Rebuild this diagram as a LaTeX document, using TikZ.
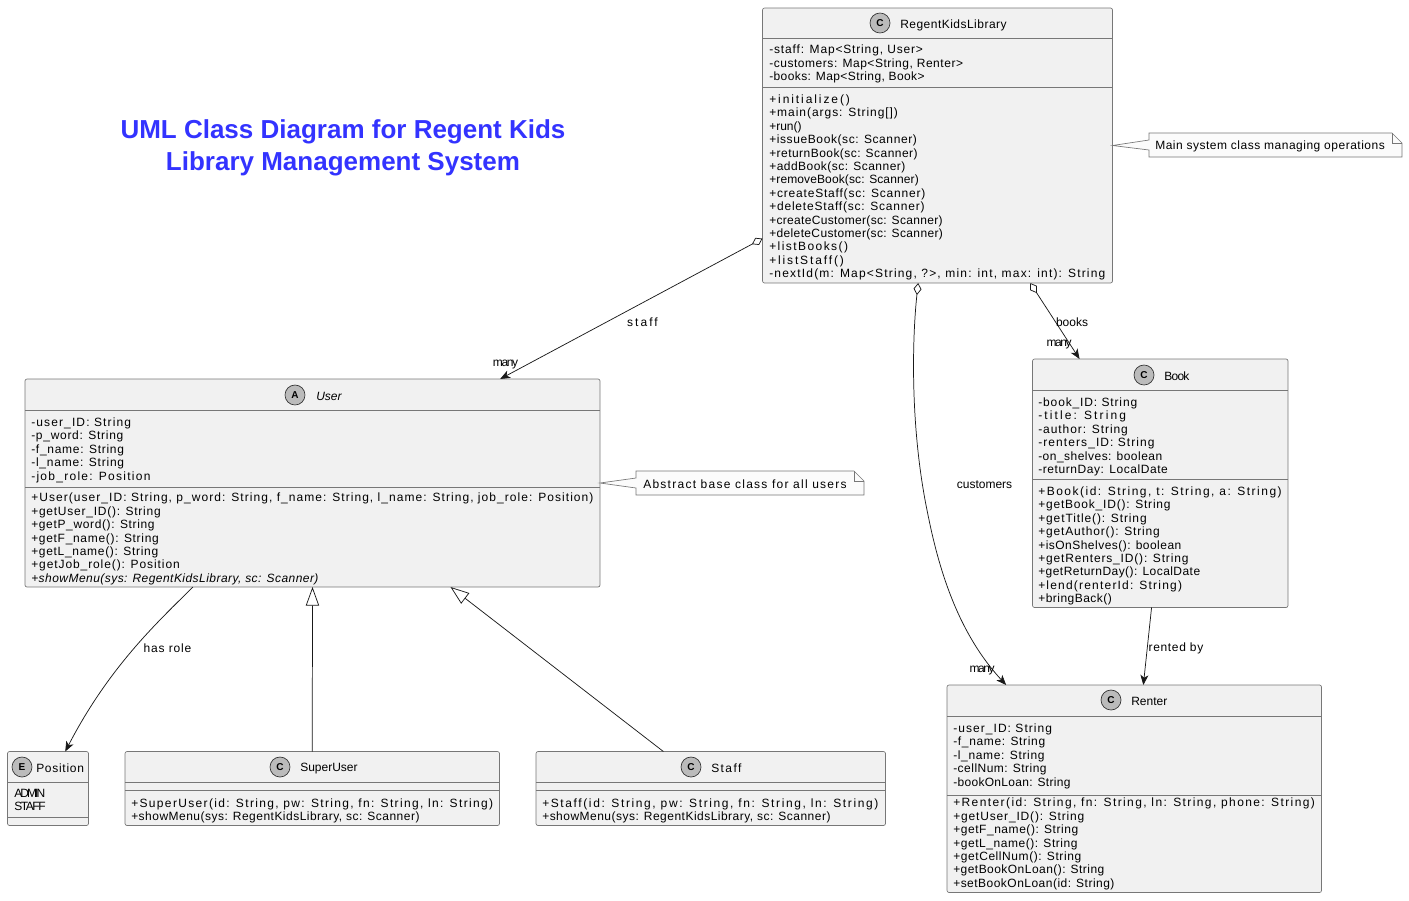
\documentclass[tikz,border=0pt]{standalone}
\usepackage{fontspec}
\setmainfont{Liberation Sans}
\usetikzlibrary{arrows.meta,fit}

\definecolor{classfill}{HTML}{F1F1F1}
\definecolor{classedge}{HTML}{777777}
\definecolor{notefill}{HTML}{FBFBFB}
\definecolor{spotfill}{HTML}{BBBBBB}
\definecolor{titleblue}{HTML}{3333FF}

\newcommand{\lsp}[2]{{\addfontfeature{LetterSpace=#1}#2}}

\tikzset{
	classbox/.style = {draw = classedge, fill = classfill, rounded corners = 1.5pt, inner sep = 0pt, outer sep = 0pt, line width = 0.5pt},
	sepline/.style = {draw = classedge, line width = 0.5pt},
	spot/.style = {circle, draw = black!80, fill = spotfill, minimum size = 15pt, inner sep = 0pt, line width = 0.5pt, font = \fontsize{7.5}{7.5}\selectfont\bfseries},
	classname/.style = {anchor = west, inner sep = 0pt, font = \fontsize{9}{10.05}\selectfont},
	members/.style = {anchor = north west, inner sep = 0pt, align = left, font = \fontsize{9}{10.05}\selectfont},
	edgelabel/.style = {inner sep = 0pt, font = \fontsize{9}{10.05}\selectfont},
	tightlabel/.style = {inner sep = 0pt, font = \fontsize{9}{10.05}\selectfont\addfontfeature{LetterSpace=-12}},
	notebox/.style = {inner sep = 0pt, outer sep = 0pt, minimum height = 18pt},
	noteline/.style = {draw = classedge, fill = notefill, line width = 0.5pt},
	assoc/.style = {draw = black!90, line width = 0.55pt, -{Stealth[length = 7.5pt, width = 6pt, inset = 2pt]}},
	aggr/.style = {assoc, {Diamond[open, fill = white, length = 9pt, width = 6pt]}-{Stealth[length = 7.5pt, width = 6pt, inset = 2pt]}},
	inherit/.style = {draw = black!90, line width = 0.55pt, -{Triangle[open, fill = white, length = 14pt, width = 10pt]}}
}

\begin{document}
\begin{tikzpicture}[x = 0.75pt, y = -0.75pt]
	\useasboundingbox (0,0) rectangle (1409,900);

	\node[align = center, font = \fontsize{19.5}{24}\selectfont\bfseries, text = titleblue] (diagramtitle) at (343,148) {UML Class Diagram for Regent Kids\\Library Management System};

	% class frames
	\node[classbox, fit = {(762.5,8) (1112.5,283)}] (rkl) {};
	\node[classbox, fit = {(25,379) (600,587)}] (user) {};
	\node[classbox, fit = {(7.5,751.5) (88.5,825.5)}] (position) {};
	\node[classbox, fit = {(125,751.5) (499.5,825.5)}] (superuser) {};
	\node[classbox, fit = {(536,751.5) (885.5,825.5)}] (staff) {};
	\node[classbox, fit = {(1032.5,359) (1288,607.5)}] (book) {};
	\node[classbox, fit = {(947,685) (1321.5,892.5)}] (renter) {};

	\foreach \nd/\yy in {rkl/38.5, rkl/87, user/410.5, user/487, position/782.5, position/817.5, superuser/782.5, superuser/790.5, staff/782.5, staff/790.5, book/390.5, book/479, renter/716, renter/795}
		\draw[sepline] (\nd.west |- 0,\yy) -- (\nd.east |- 0,\yy);

	% headers
	\node[spot] (rklspot) at (880,23) {C};
	\node[classname] (rklname) at (900,25) {\lsp{4}{RegentKidsLibrary}};
	\node[spot] (userspot) at (295,395) {A};
	\node[classname, font = \fontsize{9}{10.05}\selectfont\itshape] (username) at (316,396) {User};
	\node[spot] (positionspot) at (22,767) {E};
	\node[classname] (positionname) at (36,768) {\lsp{6}{Position}};
	\node[spot] (superuserspot) at (280,767) {C};
	\node[classname] (superusername) at (300,769) {SuperUser};
	\node[spot] (staffspot) at (691,767) {C};
	\node[classname] (staffname) at (711,768) {\lsp{12}{Staff}};
	\node[spot] (bookspot) at (1144,375) {C};
	\node[classname] (bookname) at (1164,376) {\lsp{-6}{Book}};
	\node[spot] (renterspot) at (1111,700) {C};
	\node[classname] (rentername) at (1131,701) {Renter};

	% members
	\node[members] (rklattrs) at (769,45) {\lsp{7}{-staff: Map<String, User>}\\\lsp{4.5}{-customers: Map<String, Renter>}\\\lsp{3.3}{-books: Map<String, Book>}};
	\node[members] (rklmethods) at (769,94.5) {\lsp{16}{+initialize()}\\\lsp{8}{+main(args: String[])}\\+run()\\\lsp{5}{+issueBook(sc: Scanner)}\\\lsp{3.8}{+returnBook(sc: Scanner)}\\\lsp{4}{+addBook(sc: Scanner)}\\\lsp{1}{+removeBook(sc: Scanner)}\\\lsp{6.7}{+createStaff(sc: Scanner)}\\\lsp{6.7}{+deleteStaff(sc: Scanner)}\\\lsp{2.7}{+createCustomer(sc: Scanner)}\\\lsp{3}{+deleteCustomer(sc: Scanner)}\\\lsp{12}{+listBooks()}\\\lsp{15.5}{+listStaff()}\\\lsp{9.9}{-nextId(m: Map<String, ?>, min: int, max: int): String}};
	\node[members] (userattrs) at (31,417.5) {\lsp{9.4}{-user\_ID: String}\\\lsp{6}{-p\_word: String}\\\lsp{6}{-f\_name: String}\\\lsp{6.5}{-l\_name: String}\\\lsp{10.6}{-job\_role: Position}};
	\node[members] (usermethods) at (31,493) {\lsp{8.8}{+User(user\_ID: String, p\_word: String, f\_name: String, l\_name: String, job\_role: Position)}\\\lsp{6.3}{+getUser\_ID(): String}\\\lsp{5.4}{+getP\_word(): String}\\\lsp{5.8}{+getF\_name(): String}\\\lsp{5.8}{+getL\_name(): String}\\\lsp{7.6}{+getJob\_role(): Position}\\\textit{\lsp{3.8}{+showMenu(sys: RegentKidsLibrary, sc: Scanner)}}};
	\node[members] (positionvalues) at (14,788.5) {\lsp{-16}{ADMIN}\\\lsp{-12}{STAFF}};
	\node[members] (superusermethods) at (131,798.5) {\lsp{11.2}{+SuperUser(id: String, pw: String, fn: String, ln: String)}\\\lsp{4}{+showMenu(sys: RegentKidsLibrary, sc: Scanner)}};
	\node[members] (staffmethods) at (542,798.5) {\lsp{13.4}{+Staff(id: String, pw: String, fn: String, ln: String)}\\\lsp{4}{+showMenu(sys: RegentKidsLibrary, sc: Scanner)}};
	\node[members] (bookattrs) at (1038,397.5) {\lsp{7.3}{-book\_ID: String}\\\lsp{17.5}{-title: String}\\\lsp{7.8}{-author: String}\\\lsp{9}{-renters\_ID: String}\\\lsp{4}{-on\_shelves: boolean}\\\lsp{4.8}{-returnDay: LocalDate}};
	\node[members] (bookmethods) at (1038,486.5) {\lsp{12.5}{+Book(id: String, t: String, a: String)}\\\lsp{6.7}{+getBook\_ID(): String}\\\lsp{7.4}{+getTitle(): String}\\\lsp{7}{+getAuthor(): String}\\\lsp{4}{+isOnShelves(): boolean}\\\lsp{7}{+getRenters\_ID(): String}\\\lsp{3.8}{+getReturnDay(): LocalDate}\\\lsp{10}{+lend(renterId: String)}\\\lsp{4}{+bringBack()}};
	\node[members] (renterattrs) at (953,723.5) {\lsp{8.8}{-user\_ID: String}\\\lsp{5.5}{-f\_name: String}\\\lsp{5.5}{-l\_name: String}\\\lsp{4}{-cellNum: String}\\\lsp{2.6}{-bookOnLoan: String}};
	\node[members] (rentermethods) at (953,798) {\lsp{11.7}{+Renter(id: String, fn: String, ln: String, phone: String)}\\\lsp{7}{+getUser\_ID(): String}\\\lsp{4.6}{+getF\_name(): String}\\\lsp{4.6}{+getL\_name(): String}\\\lsp{4.8}{+getCellNum(): String}\\\lsp{3.8}{+getBookOnLoan(): String}\\\lsp{4}{+setBookOnLoan(id: String)}};

	% notes
	\node[notebox, minimum width = 189.75pt] (rklnote) at (1275.5,145) {};
	\node[notebox, minimum width = 171pt] (usernote) at (750,483) {};
	\foreach \nt/\ow in {rklnote/rkl, usernote/user}
	{
		\draw[noteline] (\nt.north west) -- ([xshift = -7.5pt]\nt.north east) -- ([yshift = -7.5pt]\nt.north east) -- (\nt.south east) -- (\nt.south west) -- ([yshift = -3.75pt]\nt.west) -- (\ow.east) -- ([yshift = 3.75pt]\nt.west) -- cycle;
		\draw[noteline, fill = none] ([xshift = -7.5pt]\nt.north east) -- ([xshift = -7.5pt, yshift = -7.5pt]\nt.north east) -- ([yshift = -7.5pt]\nt.north east);
	}
	\node[classname] (rklnotetext) at (1155,146.5) {\lsp{4.2}{Main system class managing operations}};
	\node[classname] (usernotetext) at (643,484.5) {\lsp{10.5}{Abstract base class for all users}};

	% connectors
	\draw[aggr] (rkl.208.37) -- (user.29.15);
	\draw[aggr] (rkl.-98.48) .. controls (912,340) and (910,430) .. (928,515) .. controls (940,575) and (960,635) .. (renter.141.5);
	\draw[aggr] (rkl.-56.65) -- (book.123.18);
	\draw[assoc] (book.-94.72) -- (renter.85.18);
	\draw[assoc] (user.221.5) .. controls (160,620) and (110,665) .. (position.65.32);
	\draw[inherit] (superuser.north) -- (user.south);
	\draw[inherit] (staff.142.23) -- (user.-37.71);

	% connector labels
	\node[edgelabel] (stafflabel) at (642.5,322.5) {\lsp{17}{staff}};
	\node[tightlabel] (staffmany) at (505.5,365) {many};
	\node[edgelabel] (customerslabel) at (984.5,485) {customers};
	\node[tightlabel] (customersmany) at (982,671) {many};
	\node[edgelabel] (bookslabel) at (1072,322) {books};
	\node[tightlabel] (booksmany) at (1059,345) {many};
	\node[edgelabel] (rolelabel) at (167.5,648) {\lsp{7}{has role}};
	\node[edgelabel] (rentedlabel) at (1176,648) {\lsp{5.5}{rented by}};
\end{tikzpicture}
\end{document}
